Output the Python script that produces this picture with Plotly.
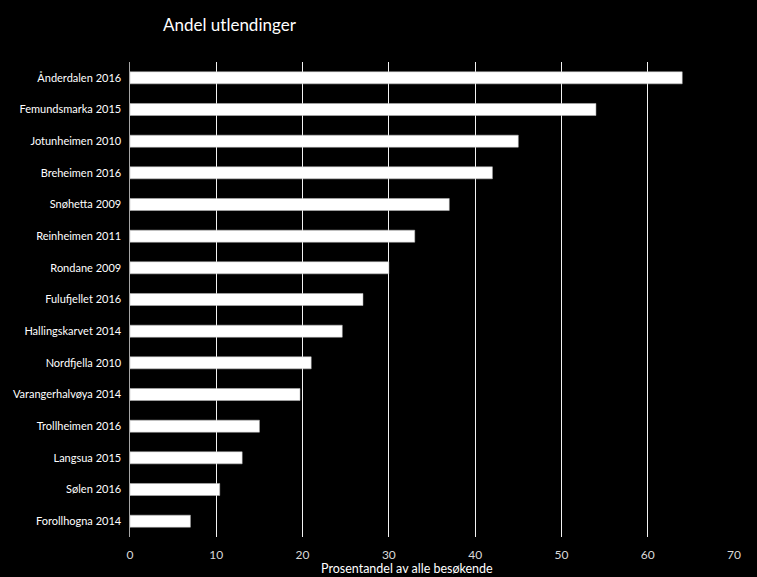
import plotly.graph_objects as go

categories = ["Ånderdalen 2016", "Femundsmarka 2015", "Jotunheimen 2010", "Breheimen 2016",
              "Snøhetta 2009", "Reinheimen 2011", "Rondane 2009", "Fulufjellet 2016",
              "Hallingskarvet 2014", "Nordfjella 2010", "Varangerhalvøya 2014",
              "Trollheimen 2016", "Langsua 2015", "Sølen 2016", "Forollhogna 2014"]
values = [64, 54, 45, 42, 37, 33, 30, 27, 24.6, 21, 19.7, 15, 13, 10.4, 7]
x_ticks = [0, 10, 20, 30, 40, 50, 60, 70]
x_title = "Prosentandel av alle besøkende"

font_family = "Lato, 'Open Sans', sans-serif"

fig = go.Figure(go.Bar(
    y=categories, x=values, orientation="h",
    marker=dict(color="white", line=dict(color="#bfbfbf", width=0.5)),
    width=0.38,
))

fig.update_layout(
    width=757, height=577,
    paper_bgcolor="black", plot_bgcolor="black",
    margin=dict(l=130, r=23, t=62, b=40, autoexpand=False),
    font=dict(family=font_family, color="white", size=11),
    title=dict(text="Andel utlendinger", x=163/757, xanchor="left", y=1 - 25/577, yanchor="middle",
               font=dict(size=17, color="white", family=font_family)),
    showlegend=False,
    bargap=0.62,
)
fig.update_xaxes(
    range=[0, 70], tickvals=x_ticks, showgrid=True, gridcolor="#f2f2f2", gridwidth=1,
    zeroline=False, showline=False, ticks="outside", ticklen=7, tickcolor="black",
    tickfont=dict(size=12, color="#d9d9d9"), automargin=False,
)
fig.update_yaxes(
    categoryorder="array", categoryarray=categories, autorange="reversed", automargin=False,
    showgrid=False, showline=True, linecolor="#a6a6a6", linewidth=1, ticks="",
    ticksuffix="  ", tickfont=dict(size=11, color="white"),
)
fig.add_annotation(
    text=x_title, xref="paper", yref="paper", x=277/604, y=-31/475,
    xanchor="center", yanchor="middle", showarrow=False,
    font=dict(size=12.5, color="white", family=font_family),
)

fig.write_html("out.html")
